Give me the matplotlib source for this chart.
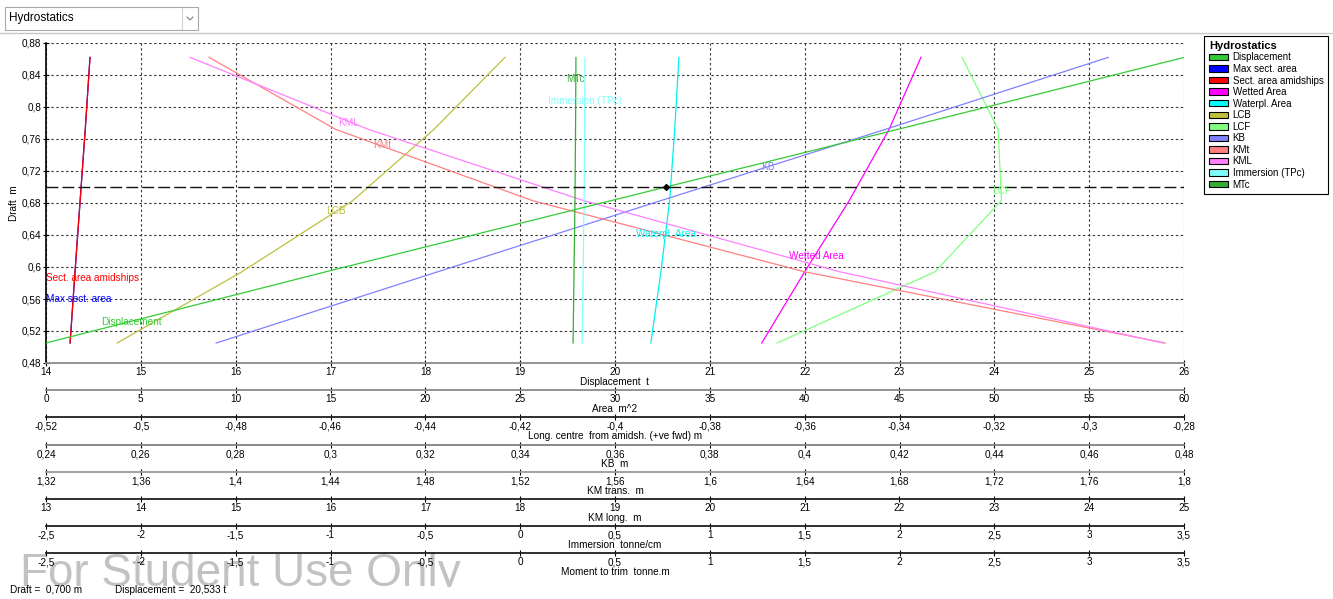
import matplotlib
matplotlib.use('Agg')
import matplotlib.pyplot as plt
import numpy as np
from matplotlib.patches import Patch, Rectangle
from matplotlib.lines import Line2D
from matplotlib.ticker import FuncFormatter
from matplotlib.transforms import Bbox

plt.rcParams['font.family'] = ['Liberation Sans', 'DejaVu Sans']

# hydrostatic table, one row per draft (m)
draft = [0.505, 0.594, 0.683, 0.772, 0.862]
displacement = [14.0, 16.95, 19.96, 22.98, 26.0]          # t
max_sect_area = [1.27, 1.53, 1.80, 2.07, 2.32]            # m^2
sect_area_amidships = [1.27, 1.53, 1.80, 2.07, 2.32]      # m^2
wetted_area = [37.74, 40.0, 42.35, 44.45, 46.13]          # m^2
waterpl_area = [31.89, 32.42, 32.88, 33.15, 33.37]        # m^2
lcb = [-0.505, -0.4787, -0.4553, -0.4382, -0.4232]        # m
lcf = [-0.3658, -0.3325, -0.3185, -0.3192, -0.3268]       # m
kb = [0.2759, 0.3226, 0.3697, 0.4170, 0.4640]             # m
kmt = [1.792, 1.640, 1.5252, 1.4422, 1.3888]              # m
kml = [24.78, 21.37, 18.67, 16.40, 14.52]                 # m
tpc = [0.327, 0.332, 0.337, 0.340, 0.342]                 # tonne/cm
mtc = [0.279, 0.284, 0.289, 0.292, 0.294]                 # tonne.m

cur_draft = 0.700
cur_disp = 20.533

FS = 7.2
W, H = 1333, 599


def comma(v, pos=None):
    v = round(float(v), 6)
    if abs(v) < 1e-9:
        v = 0.0
    return f"{v:g}".replace('.', ',')


fig = plt.figure(figsize=(W / 100, H / 100), dpi=100)
fig.patch.set_facecolor('white')

# plot area in pixels
X0, X1, Y0, Y1 = 46, 1184, 43, 363
ax = fig.add_axes([X0 / W, 1 - Y1 / H, (X1 - X0) / W, (Y1 - Y0) / H])
ax.set_xlim(14, 26)
ax.set_ylim(0.48, 0.88)
ax.set_xticks(np.linspace(14, 26, 13))
ax.set_yticks(np.linspace(0.48, 0.88, 11))
ax.xaxis.set_major_formatter(FuncFormatter(comma))
ax.yaxis.set_major_formatter(FuncFormatter(comma))
ax.grid(True, color='#3a3a3a', linestyle=(0, (2.2, 2.2)), linewidth=0.8)
ax.spines['top'].set_visible(False)
ax.spines['right'].set_visible(False)
ax.spines['left'].set_color('black')
ax.spines['left'].set_linewidth(1.2)
ax.spines['bottom'].set_color('#8a8a8a')
ax.spines['bottom'].set_linewidth(1.3)
ax.tick_params(axis='both', direction='inout', length=5, width=0.8, labelsize=FS, pad=1)
ax.tick_params(axis='x', pad=0.5)
ax.set_xlabel('Displacement  t', fontsize=FS, labelpad=0)
ax.set_ylabel('Draft  m', fontsize=FS, labelpad=2)

# extra scales underneath the displacement axis
scale_titles = ['Area  m^2', 'Long. centre  from amidsh. (+ve fwd) m', 'KB  m',
                'KM trans.  m', 'KM long.  m', 'Immersion  tonne/cm',
                'Moment to trim  tonne.m']
scale_lo = [0, -0.52, 0.24, 1.32, 13, -2.5, -2.5]
scale_hi = [60, -0.28, 0.48, 1.80, 25, 3.5, 3.5]
offsets_px = [27, 54, 82, 109, 136, 163, 190]
spine_colors = ['#8a8a8a', '#1e1e1e', '#808080', '#9a9a9a', '#1e1e1e', '#1e1e1e', '#1e1e1e']

scale_axes = []
for title, lo, hi, off, col in zip(scale_titles, scale_lo, scale_hi, offsets_px, spine_colors):
    a = ax.twiny()
    a.set_xlim(lo, hi)
    a.set_xticks(np.linspace(lo, hi, 13))
    a.xaxis.set_major_formatter(FuncFormatter(comma))
    a.xaxis.set_ticks_position('bottom')
    a.xaxis.set_label_position('bottom')
    for s in ('top', 'left', 'right'):
        a.spines[s].set_visible(False)
    a.spines['bottom'].set_position(('outward', off * 0.72))
    a.spines['bottom'].set_color(col)
    a.spines['bottom'].set_linewidth(1.3)
    a.tick_params(axis='x', direction='inout', length=5, width=0.8, labelsize=FS, pad=0.5)
    a.set_xlabel(title, fontsize=FS, labelpad=0)
    a.grid(False)
    scale_axes.append(a)

ax_area, ax_lc, ax_kb, ax_kmt, ax_kml, ax_tpc, ax_mtc = scale_axes

LW = 0.9
colors = {
    'Displacement': '#33cc33', 'Max sect. area': '#0000ff',
    'Sect. area amidships': '#ff0000', 'Wetted Area': '#ff00ff',
    'Waterpl. Area': '#00f0f0', 'LCB': '#bfbf3f', 'LCF': '#80ff80',
    'KB': '#8080ff', 'KMt': '#ff8080', 'KML': '#ff80ff',
    'Immersion (TPc)': '#80ffff', 'MTc': '#33b033',
}

ax_area.plot(max_sect_area, draft, color=colors['Max sect. area'], lw=LW)
ax_area.plot(sect_area_amidships, draft, color=colors['Sect. area amidships'], lw=LW)
ax_area.plot(wetted_area, draft, color=colors['Wetted Area'], lw=LW)
ax_area.plot(waterpl_area, draft, color=colors['Waterpl. Area'], lw=LW)
ax_lc.plot(lcb, draft, color=colors['LCB'], lw=LW)
ax_lc.plot(lcf, draft, color=colors['LCF'], lw=LW)
ax_kb.plot(kb, draft, color=colors['KB'], lw=LW)
ax_kmt.plot(kmt, draft, color=colors['KMt'], lw=LW)
ax_kml.plot(kml, draft, color=colors['KML'], lw=LW)
ax_tpc.plot(tpc, draft, color=colors['Immersion (TPc)'], lw=LW)
ax_mtc.plot(mtc, draft, color=colors['MTc'], lw=LW)
ax_mtc.plot(displacement, draft, color=colors['Displacement'], lw=LW,
            transform=ax.transData)

# current waterline
ax_mtc.axhline(cur_draft, color='#111111', lw=1.0, dashes=(8.5, 3.0))
ax_mtc.plot([cur_disp], [cur_draft], marker='D', color='black', markersize=3,
            transform=ax.transData)

# curve captions (displacement / draft coordinates)
captions = [
    ('Sect. area amidships', 14.0, 0.586),
    ('Max sect. area', 14.0, 0.560),
    ('Displacement', 14.58, 0.531),
    ('LCB', 16.95, 0.670),
    ('KML', 17.08, 0.780),
    ('KMt', 17.45, 0.7525),
    ('MTc', 19.48, 0.835),
    ('Immersion (TPc)', 19.29, 0.8075),
    ('Waterpl. Area', 20.22, 0.641),
    ('KB', 21.54, 0.725),
    ('Wetted Area', 21.84, 0.614),
    ('LCF', 23.98, 0.695),
]
for name, cx, cy in captions:
    ax_mtc.text(cx, cy, name, color=colors[name], fontsize=FS, ha='left', va='center',
                transform=ax.transData)

# legend
order = ['Displacement', 'Max sect. area', 'Sect. area amidships', 'Wetted Area',
         'Waterpl. Area', 'LCB', 'LCF', 'KB', 'KMt', 'KML', 'Immersion (TPc)', 'MTc']
legend_colors = dict(colors)
legend_colors['Waterpl. Area'] = '#00ffff'
handles = [Patch(facecolor=legend_colors[n], edgecolor='black', linewidth=0.8) for n in order]
leg = fig.legend(handles, order, loc='upper left', bbox_to_anchor=(1204 / W, 1 - 36 / H),
                 title='Hydrostatics', title_fontproperties={'weight': 'bold', 'size': 8},
                 alignment='left', fontsize=7, handlelength=2.0, handleheight=0.65,
                 labelspacing=0.16, handletextpad=0.45, borderpad=0.5, borderaxespad=0,
                 fancybox=False, edgecolor='black', framealpha=1)
leg.get_frame().set_linewidth(0.8)

# selector box at the top
fig.add_artist(Rectangle((5 / W, 1 - 30 / H), 193 / W, 23 / H, transform=fig.transFigure,
                         fill=False, edgecolor='#a8a8a8', lw=0.8))
fig.add_artist(Line2D([182 / W, 182 / W], [1 - 29 / H, 1 - 8 / H], transform=fig.transFigure,
                      color='#d0d0d0', lw=0.8))
fig.add_artist(Line2D([187 / W, 190 / W, 193 / W], [1 - 17 / H, 1 - 20 / H, 1 - 17 / H],
                      transform=fig.transFigure, color='#707070', lw=0.7))
fig.text(9 / W, 1 - 18.5 / H, 'Hydrostatics', fontsize=8.5, va='center', ha='left')
fig.add_artist(Line2D([0, 1], [1 - 33 / H, 1 - 33 / H], transform=fig.transFigure,
                      color='#c8c8c8', lw=1.0))

# status line
fig.text(10 / W, 1 - 590 / H, 'Draft =  ' + f'{cur_draft:.3f}'.replace('.', ',') + ' m',
         fontsize=FS, va='center')
fig.text(115 / W, 1 - 590 / H,
         'Displacement =  ' + f'{cur_disp:.3f}'.replace('.', ',') + ' t',
         fontsize=FS, va='center')

wm = fig.text(20 / W, 1 - 586 / H, 'For Student Use Only', fontsize=33, color='#c2c2c2',
              va='baseline', ha='left', zorder=-1)
wm.set_clip_box(Bbox([[0, H - 587], [W, H]]))
wm.set_clip_on(True)

fig.savefig('out.png', dpi=100)
